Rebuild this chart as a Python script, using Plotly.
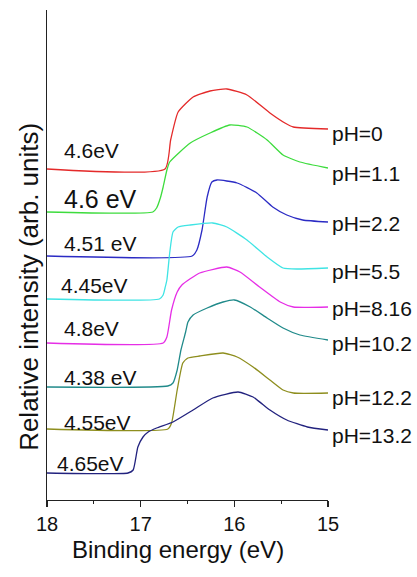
import plotly.graph_objects as go

# ---- data ----
ph_labels = ["pH=0", "pH=1.1", "pH=2.2", "pH=5.5", "pH=8.16", "pH=10.2", "pH=12.2", "pH=13.2"]
wf_labels = ["4.6eV", "4.6 eV", "4.51 eV", "4.45eV", "4.8eV", "4.38 eV", "4.55eV", "4.65eV"]

x_ph0 = [18.00, 16.74, 16.68, 16.60, 16.44, 16.26, 16.08, 15.865, 15.62, 15.46, 15.37, 15.00]
y_ph0 = [33.1, 33.1, 36.0, 38.8, 40.3, 40.9, 41.1, 40.5, 38.7, 37.7, 37.3, 37.1]

x_ph1 = [18.00, 16.87, 16.83, 16.79, 16.76, 16.72, 16.69, 16.47, 16.26, 16.05, 15.865, 15.65, 15.48, 15.30, 15.00]
y_ph1 = [28.8, 28.8, 29.2, 30.2, 31.3, 33.0, 33.8, 35.7, 36.7, 37.5, 37.3, 36.0, 34.5, 33.8, 33.2]

x_ph2 = [18.00, 16.45, 16.40, 16.345, 16.29, 16.24, 16.185, 15.97, 15.76, 15.59, 15.44, 15.27, 15.00]
y_ph2 = [24.4, 24.4, 25.0, 27.0, 30.3, 31.8, 32.0, 31.7, 30.7, 29.3, 28.5, 28.0, 27.8]

x_ph5 = [18.00, 16.80, 16.76, 16.74, 16.72, 16.69, 16.655, 16.60, 16.47, 16.23, 16.08, 15.865, 15.65, 15.48, 15.33, 15.00]
y_ph5 = [20.1, 20.1, 20.5, 21.2, 22.0, 24.7, 26.8, 27.3, 27.5, 27.7, 27.3, 26.0, 24.3, 23.2, 23.1, 23.2]

x_ph8 = [18.00, 16.76, 16.72, 16.67, 16.61, 16.56, 16.37, 16.08, 15.94, 15.73, 15.51, 15.37, 15.00]
y_ph8 = [15.7, 15.7, 16.3, 19.0, 20.8, 21.5, 22.7, 23.3, 22.8, 21.3, 19.8, 19.3, 19.3]

x_ph10 = [18.00, 16.71, 16.655, 16.61, 16.57, 16.52, 16.495, 16.44, 16.29, 16.12, 16.00, 15.83, 15.65, 15.48, 15.30, 15.00]
y_ph10 = [11.3, 11.4, 11.7, 13.0, 15.0, 16.8, 17.8, 18.5, 19.2, 19.8, 20.0, 19.3, 18.2, 17.2, 16.5, 16.0]

x_ph12 = [18.00, 16.71, 16.67, 16.61, 16.55, 16.495, 16.37, 16.12, 15.97, 15.80, 15.62, 15.48, 15.37, 15.00]
y_ph12 = [7.1, 7.1, 7.7, 11.0, 13.7, 14.2, 14.4, 14.7, 14.3, 13.3, 12.0, 11.0, 10.7, 10.7]

x_ph13 = [18.00, 17.135, 17.08, 17.03, 16.975, 16.92, 16.83, 16.655, 16.44, 16.23, 15.96, 15.80, 15.62, 15.44, 15.22, 15.00]
y_ph13 = [2.7, 2.7, 3.0, 5.3, 6.3, 6.8, 7.2, 7.8, 9.0, 10.2, 10.8, 10.3, 9.0, 8.0, 7.3, 7.0]

xs = [x_ph0, x_ph1, x_ph2, x_ph5, x_ph8, x_ph10, x_ph12, x_ph13]
ys = [y_ph0, y_ph1, y_ph2, y_ph5, y_ph8, y_ph10, y_ph12, y_ph13]

# ---- styling / placement ----
colors = ["#e42a2a", "#3ddc3d", "#2b2bc4", "#3fe4e4", "#e62ee6", "#208a8a", "#8e8e1e", "#22227e"]
wf_pos_x = [17.84, 17.84, 17.84, 17.87, 17.84, 17.84, 17.84, 17.915]
wf_pos_y = [35.0, 30.1, 25.7, 21.5, 17.2, 12.3, 7.8, 3.7]
wf_size = [21, 25, 21, 21, 21, 21, 21, 21]
ph_pos_y = [36.7, 32.7, 27.7, 22.9, 19.2, 15.7, 10.3, 6.5]

FONT = "Liberation Sans, Arial, sans-serif"

fig = go.Figure()
for x, y, c, name in zip(xs, ys, colors, ph_labels):
    fig.add_trace(go.Scatter(x=x, y=y, mode="lines", name=name,
                             line=dict(color=c, width=1.3, shape="spline", smoothing=0.5),
                             showlegend=False, hoverinfo="skip"))

ann = []
for t, px, py, s in zip(wf_labels, wf_pos_x, wf_pos_y, wf_size):
    ann.append(dict(x=px, y=py, xref="x", yref="y", text=t, showarrow=False,
                    xanchor="left", yanchor="middle", font=dict(size=s, color="#111", family=FONT)))
for t, py in zip(ph_labels, ph_pos_y):
    ann.append(dict(x=1.008, y=py, xref="paper", yref="y", text=t, showarrow=False,
                    xanchor="left", yanchor="middle", font=dict(size=21, color="#111", family=FONT)))
ann.append(dict(x=0.466, y=-0.102, xref="paper", yref="paper", text="Binding energy (eV)",
                showarrow=False, xanchor="center", yanchor="middle",
                font=dict(size=24, color="#111", family=FONT)))
ann.append(dict(x=-0.064, y=0.435, xref="paper", yref="paper", text="Relative intensity (arb. units)",
                showarrow=False, xanchor="center", yanchor="middle", textangle=-90,
                font=dict(size=26, color="#111", family=FONT)))

fig.update_layout(
    width=417, height=577,
    margin=dict(l=47, r=89, t=10, b=77),
    paper_bgcolor="white", plot_bgcolor="white",
    annotations=ann,
    xaxis=dict(range=[18, 15], tickvals=[18, 17, 16, 15], ticktext=["18", "17", "16", "15"],
               showline=True, linecolor="#222", linewidth=1.2, ticks="outside", ticklen=6,
               tickwidth=1.2, tickcolor="#222", showgrid=False, zeroline=False,
               tickfont=dict(size=20, color="#111", family=FONT),
               minor=dict(tickvals=[17.5, 16.5, 15.5], ticks="outside", ticklen=3,
                          tickwidth=1.2, tickcolor="#222", showgrid=False)),
    yaxis=dict(range=[0, 49], showline=True, linecolor="#222", linewidth=1.2, ticks="",
               showticklabels=False, showgrid=False, zeroline=False),
)

fig.write_html("out.html",
               config={"displayModeBar": False, "staticPlot": True},
               post_script="document.body.style.margin='0';document.body.style.overflow='hidden';")
